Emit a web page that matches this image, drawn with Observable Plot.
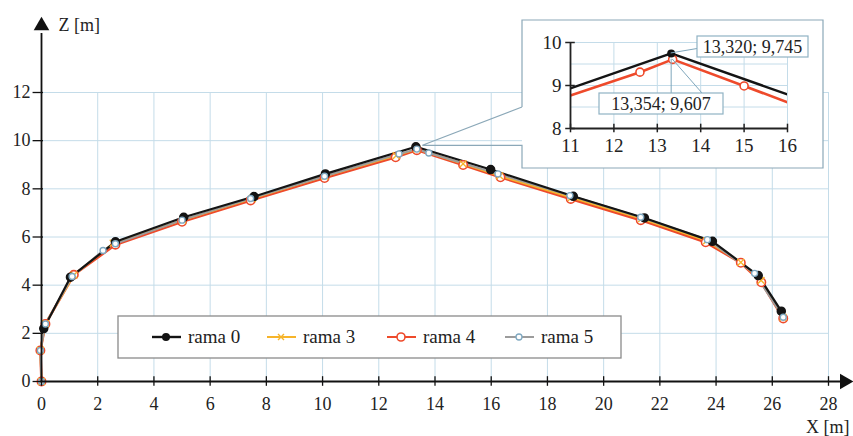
<!DOCTYPE html>
<html>
<head>
<meta charset="utf-8">
<script src="https://cdn.jsdelivr.net/npm/d3@7"></script>
<script src="https://cdn.jsdelivr.net/npm/@observablehq/plot@0.6"></script>
<style>
  html, body { margin: 0; padding: 0; background: #fff; }
  #wrap { position: relative; width: 853px; height: 436px; overflow: hidden; font-family: 'Liberation Serif', 'DejaVu Serif', serif; }
  #wrap svg { position: absolute; }
  #wrap svg text { font-family: 'Liberation Serif', 'DejaVu Serif', serif; }
</style>
</head>
<body>
<div id="wrap"></div>
<script>
// ---- data ----
const seriesNames = ["rama 0", "rama 3", "rama 4", "rama 5"];

const rama0X = [0.08, 1.03, 2.63, 5.06, 7.56, 10.10, 13.320, 15.98, 18.92, 21.45, 23.87, 25.50, 26.32];
const rama0Z = [2.20, 4.33, 5.80, 6.82, 7.68, 8.62, 9.745, 8.80, 7.69, 6.79, 5.82, 4.40, 2.92];

const rama3X = [0, -0.04, 0.14, 1.15, 2.55, 5.02, 7.50, 10.08, 12.62, 13.354, 15.00, 16.30, 18.85, 21.35, 23.66, 24.88, 25.60, 26.38];
const rama3Z = [0, 1.30, 2.40, 4.42, 5.74, 6.70, 7.60, 8.52, 9.38, 9.650, 9.04, 8.54, 7.64, 6.76, 5.84, 4.95, 4.20, 2.66];

const rama4X = [0, -0.04, 0.14, 1.15, 2.63, 5.00, 7.44, 10.07, 12.60, 13.354, 15.00, 16.33, 18.83, 21.32, 23.63, 24.88, 25.61, 26.39];
const rama4Z = [0, 1.29, 2.39, 4.43, 5.68, 6.63, 7.52, 8.45, 9.31, 9.607, 8.99, 8.48, 7.58, 6.70, 5.78, 4.93, 4.12, 2.62];

const rama5X = [0, -0.04, 0.14, 1.09, 2.19, 2.63, 5.00, 7.44, 10.07, 12.72, 13.354, 13.78, 16.24, 18.80, 21.32, 23.69, 25.37, 26.39];
const rama5Z = [0, 1.29, 2.39, 4.36, 5.44, 5.72, 6.70, 7.60, 8.52, 9.45, 9.650, 9.49, 8.62, 7.72, 6.82, 5.89, 4.49, 2.67];

const xTicks = [0, 2, 4, 6, 8, 10, 12, 14, 16, 18, 20, 22, 24, 26, 28];
const zTicks = [0, 2, 4, 6, 8, 10, 12];
const insetXTicks = [11, 12, 13, 14, 15, 16];
const insetZTicks = [8, 9, 10];
const insetGridZ = [8.5, 9, 9.5, 10];
const callout0 = "13,320; 9,745";
const callout4 = "13,354; 9,607";

// ---- styles ----
const C0 = "#141414", C3 = "#f6b42a", C4 = "#ee4a2b", C5 = "#9c9c9c", C5m = "#7fa8c0";
const GRID = "#c4dce9";
const FONT = "'Liberation Serif', 'DejaVu Serif', serif";

const pts = (xs, zs) => xs.map((x, i) => ({x, z: zs[i]}));
const s0 = pts(rama0X, rama0Z), s3 = pts(rama3X, rama3Z), s4 = pts(rama4X, rama4Z), s5 = pts(rama5X, rama5Z);
const peak0 = s0.find(d => d.x === 13.320), peak4 = s4.find(d => d.x === 13.354);

const wrap = document.getElementById("wrap");

// ---- main chart ----
const main = Plot.plot({
  width: 853, height: 436,
  marginLeft: 41, marginRight: 25, marginTop: 92, marginBottom: 55,
  x: {domain: [0, 28], axis: null},
  y: {domain: [0, 12], axis: null},
  style: {fontFamily: FONT, fontSize: "18px", background: "transparent", overflow: "visible"},
  marks: [
    Plot.ruleX(xTicks.filter(d => d > 0), {x: d => d, y1: 0, y2: 12, stroke: GRID, strokeWidth: 1}),
    Plot.ruleY(zTicks.filter(d => d > 0), {y: d => d, x1: 0, x2: 28, stroke: GRID, strokeWidth: 1}),
    Plot.line(s4, {x: "x", y: "z", stroke: C4, strokeWidth: 2.6}),
    Plot.line(s3, {x: "x", y: "z", stroke: C3, strokeWidth: 2}),
    Plot.line(s5, {x: "x", y: "z", stroke: C5, strokeWidth: 2}),
    Plot.line(s0, {x: "x", y: "z", stroke: C0, strokeWidth: 2.2}),
    Plot.dot(s4, {x: "x", y: "z", r: 4.2, stroke: C4, fill: "white", strokeWidth: 1.6}),
    Plot.dot(s3, {x: "x", y: "z", r: 3.2, symbol: "times", stroke: C3, strokeWidth: 1.4}),
    Plot.dot(s0, {x: "x", y: "z", r: 4, fill: C0, stroke: C0}),
    Plot.dot(s5, {x: "x", y: "z", r: 3, stroke: C5m, fill: "white", strokeWidth: 1.4}),
    // axes
    Plot.ruleY([0], {y: d => d, x1: -0.05, x2: 28.45, stroke: "#111", strokeWidth: 1.8}),
    Plot.ruleX([0], {x: d => d, y1: 0, y2: 14.45, stroke: "#111", strokeWidth: 1.8}),
    Plot.dot([0], {x: 0, y: 14.77, symbol: "triangle", r: 5.8, fill: "#111", stroke: "none"}),
    Plot.dot([0], {x: 28.57, y: 0, symbol: "triangle", r: 5.8, fill: "#111", stroke: "none", rotate: 90}),
    Plot.ruleX(xTicks, {x: d => d, y1: -0.2, y2: 0.2, stroke: "#111", strokeWidth: 1.3}),
    Plot.ruleY(zTicks, {y: d => d, x1: -0.3, x2: 0.07, stroke: "#111", strokeWidth: 1.3}),
    Plot.text(xTicks, {x: d => d, y: 0, dy: 23, text: d => String(d), fill: "#222", fontSize: 18}),
    Plot.text(zTicks, {x: 0, y: d => d, dx: -11, textAnchor: "end", text: d => String(d), fill: "#222", fontSize: 18}),
    Plot.text(["Z [m]"], {x: 0, y: 14.8, dx: 17, textAnchor: "start", text: d => d, fill: "#222", fontSize: 18}),
    Plot.text(["X [m]"], {x: 28, y: 0, dx: 21, dy: 46, textAnchor: "end", text: d => d, fill: "#222", fontSize: 18})
  ]
});
main.style.left = "0px"; main.style.top = "0px";
wrap.appendChild(main);

// ---- callout box with wedge to the peak ----
const sx = main.scale("x"), sy = main.scale("y");
const tipX = sx.apply(peak0.x) + 7, tipY = sy.apply(peak0.z) - 1;
const box = {x0: 522, y0: 20, x1: 823, y1: 168, wedgeTop: 107};
const msvg = d3.select(main);
const g = msvg.append("g");
g.append("rect").attr("x", box.x0).attr("y", box.y0).attr("width", box.x1 - box.x0).attr("height", box.y1 - box.y0)
  .attr("fill", "white").attr("stroke", "none");
g.append("path")
  .attr("d", `M${box.x0},${box.wedgeTop} L${box.x0},${box.y0} L${box.x1},${box.y0} L${box.x1},${box.y1} L${box.x0},${box.y1} L${box.x0},${tipY} L${tipX},${tipY} L${box.x0},${box.wedgeTop}`)
  .attr("fill", "none").attr("stroke", "#8ba8b8").attr("stroke-width", 1.2);

// ---- inset chart ----
const inset = Plot.plot({
  width: 301, height: 148,
  marginLeft: 48, marginRight: 36, marginTop: 22, marginBottom: 40,
  x: {domain: [11, 16], axis: null},
  y: {domain: [8, 10], axis: null},
  style: {fontFamily: FONT, fontSize: "19px", background: "transparent", overflow: "visible"},
  marks: [
    Plot.ruleX(insetXTicks.filter(d => d > 11), {x: d => d, y1: 8, y2: 10, stroke: GRID, strokeWidth: 1}),
    Plot.ruleY(insetGridZ, {y: d => d, x1: 11, x2: 16, stroke: GRID, strokeWidth: 1}),
    Plot.line(s4, {x: "x", y: "z", stroke: C4, strokeWidth: 2.6, clip: true}),
    Plot.line(s0, {x: "x", y: "z", stroke: C0, strokeWidth: 2.4, clip: true}),
    Plot.dot(s4.filter(d => d.x > 11 && d.x < 15.9), {x: "x", y: "z", r: 4, stroke: C4, fill: "white", strokeWidth: 1.6}),
    Plot.dot([peak0], {x: "x", y: "z", r: 4, fill: C0}),
    Plot.ruleY([8], {y: d => d, x1: 11, x2: 16, stroke: "#222", strokeWidth: 1.8}),
    Plot.ruleX([11], {x: d => d, y1: 8, y2: 10, stroke: "#222", strokeWidth: 1.8}),
    Plot.ruleX(insetXTicks, {x: d => d, y1: 7.9, y2: 8.1, stroke: "#222", strokeWidth: 1.5}),
    Plot.ruleY(insetZTicks, {y: d => d, x1: 10.89, x2: 11.11, stroke: "#222", strokeWidth: 1.5}),
    Plot.text(insetXTicks, {x: d => d, y: 8, dy: 17, text: d => String(d), fill: "#222", fontSize: 19}),
    Plot.text(insetZTicks, {x: 11, y: d => d, dx: -9, textAnchor: "end", text: d => String(d), fill: "#222", fontSize: 19})
  ]
});
inset.style.left = box.x0 + "px"; inset.style.top = box.y0 + "px";
wrap.appendChild(inset);

// callout labels inside inset
const ix = inset.scale("x"), iy = inset.scale("y");
const isvg = d3.select(inset);
const p0 = [ix.apply(peak0.x), iy.apply(peak0.z)];
const p4 = [ix.apply(peak4.x), iy.apply(peak4.z)];
const lab1 = {x: 175, y: 16, w: 111, h: 21};
const lab2 = {x: 77, y: 73, w: 124, h: 21};
const lg = isvg.append("g");
lg.append("line").attr("x1", p0[0]).attr("y1", p0[1]).attr("x2", lab1.x).attr("y2", lab1.y + lab1.h / 2 + 2).attr("stroke", "#7fa6bb").attr("stroke-width", 1);
lg.append("line").attr("x1", p4[0] - 1).attr("y1", p4[1]).attr("x2", p4[0] - 1).attr("y2", lab2.y).attr("stroke", "#7fa6bb").attr("stroke-width", 1);
lg.append("line").attr("x1", p4[0]).attr("y1", p4[1]).attr("x2", 180).attr("y2", lab2.y).attr("stroke", "#7fa6bb").attr("stroke-width", 1);
for (const [lab, txt] of [[lab1, callout0], [lab2, callout4]]) {
  lg.append("rect").attr("x", lab.x).attr("y", lab.y).attr("width", lab.w).attr("height", lab.h)
    .attr("fill", "white").attr("stroke", "#8fb2c4").attr("stroke-width", 1.2);
  lg.append("text").attr("x", lab.x + lab.w / 2).attr("y", lab.y + lab.h / 2 + 6).attr("text-anchor", "middle")
    .attr("font-size", 18).attr("fill", "#222").text(txt);
}

// ---- legend ----
const legend = d3.select(wrap).append("svg")
  .attr("width", 506).attr("height", 45)
  .style("left", "117px").style("top", "315px");
legend.append("rect").attr("x", 1).attr("y", 1).attr("width", 503).attr("height", 42)
  .attr("fill", "white").attr("stroke", "#8a8a8a").attr("stroke-width", 1.3);
const items = [
  {name: seriesNames[0], x: 35, color: C0, m: "dot"},
  {name: seriesNames[1], x: 150, color: C3, m: "times"},
  {name: seriesNames[2], x: 270, color: C4, m: "ring"},
  {name: seriesNames[3], x: 388, color: C5, m: "small"}
];
for (const it of items) {
  const cy = 22, cx = it.x + 14;
  legend.append("line").attr("x1", it.x).attr("x2", it.x + 29).attr("y1", cy).attr("y2", cy)
    .attr("stroke", it.color).attr("stroke-width", it.m === "dot" ? 2.4 : 2);
  if (it.m === "dot") legend.append("circle").attr("cx", cx).attr("cy", cy).attr("r", 4).attr("fill", it.color);
  if (it.m === "ring") legend.append("circle").attr("cx", cx).attr("cy", cy).attr("r", 4).attr("fill", "white").attr("stroke", it.color).attr("stroke-width", 1.6);
  if (it.m === "small") legend.append("circle").attr("cx", cx).attr("cy", cy).attr("r", 3).attr("fill", "white").attr("stroke", C5m).attr("stroke-width", 1.3);
  if (it.m === "times") legend.append("path").attr("d", `M${cx-3},${cy-3}L${cx+3},${cy+3}M${cx-3},${cy+3}L${cx+3},${cy-3}`).attr("stroke", it.color).attr("stroke-width", 1.4);
  legend.append("text").attr("x", it.x + 36).attr("y", cy + 6).attr("font-size", 19)
    .attr("fill", "#222").text(it.name);
}
</script>
</body>
</html>
